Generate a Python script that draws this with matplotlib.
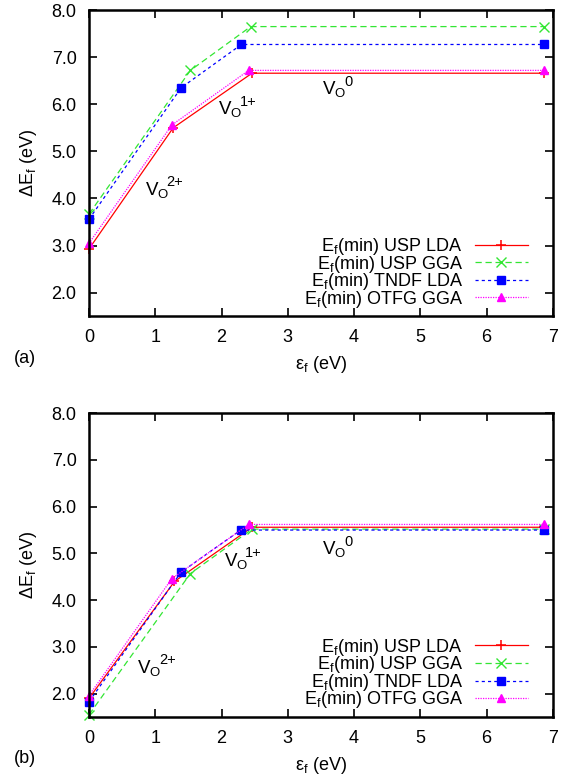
import matplotlib
matplotlib.use("Agg")
from matplotlib import pyplot as plt

plt.rcParams['font.family'] = ['Liberation Sans', 'DejaVu Sans']
plt.rcParams['mathtext.default'] = 'regular'
plt.rcParams['font.size'] = 13

# formation energy vs Fermi level, panel (a)
x_usp_lda_a = [0.0, 1.27, 2.46, 6.87]
y_usp_lda_a = [2.93, 5.50, 6.66, 6.66]
x_usp_gga_a = [0.0, 1.53, 2.44, 6.87]
y_usp_gga_a = [3.67, 6.72, 7.65, 7.65]
x_tndf_lda_a = [0.0, 1.39, 2.30, 6.87]
y_tndf_lda_a = [3.56, 6.35, 7.27, 7.27]
x_otfg_gga_a = [0.0, 1.25, 2.41, 6.87]
y_otfg_gga_a = [3.05, 5.56, 6.72, 6.72]

# panel (b)
x_usp_lda_b = [0.0, 1.29, 2.46, 6.87]
y_usp_lda_b = [1.90, 4.40, 5.56, 5.56]
x_usp_gga_b = [0.0, 1.53, 2.46, 6.87]
y_usp_gga_b = [1.55, 4.57, 5.52, 5.52]
x_tndf_lda_b = [0.0, 1.39, 2.29, 6.87]
y_tndf_lda_b = [1.83, 4.60, 5.50, 5.50]
x_otfg_gga_b = [0.0, 1.25, 2.41, 6.87]
y_otfg_gga_b = [1.96, 4.46, 5.62, 5.62]

labels = ['E$_f$(min) USP LDA', 'E$_f$(min) USP GGA',
          'E$_f$(min) TNDF LDA', 'E$_f$(min) OTFG GGA']
x_ticks = [0, 1, 2, 3, 4, 5, 6, 7]
y_ticks = [2.0, 3.0, 4.0, 5.0, 6.0, 7.0, 8.0]

charges = ['2+', '1+', '0']
charge_pos_a = [(0.84, 4.08), (1.95, 5.79), (3.52, 6.22)]
charge_pos_b = [(0.73, 2.45), (2.03, 4.74), (3.52, 4.99)]


def draw(ax, series, charge_pos, tag):
    styles = [
        dict(color='#ff0000', ls='-', marker='+', ms=7.5, mew=1.1),
        dict(color='#33e633', ls=(0, (5, 3)), marker='x', ms=6.5, mew=1.0),
        dict(color='#0000ff', ls=(0, (2.5, 2.5)), marker='s', ms=5.5),
        dict(color='#ff00ff', ls=(0, (1, 1)), marker='^', ms=6),
    ]
    for (xx, yy), lab, st in zip(series, labels, styles):
        ax.plot(xx, yy, lw=0.9, label=lab, clip_on=False, **st)

    # V_O with the charge written after the subscript, gnuplot style
    for q, (cx, cy) in zip(charges, charge_pos):
        ax.text(cx, cy, 'V$_O$', fontsize=13.5, ha='left', va='baseline')
        ax.annotate(q, xy=(cx, cy), xytext=(15.6, 6.0),
                    textcoords='offset points', fontsize=10.5,
                    ha='left', va='baseline')

    ax.set_xlim(0, 7)
    ax.set_ylim(1.5, 8.0)
    ax.set_xticks(x_ticks)
    ax.set_yticks(y_ticks)
    ax.set_yticklabels(['{:.1f}'.format(v) for v in y_ticks])
    ax.tick_params(direction='in', length=6, width=1.2, top=True, right=True)
    ax.tick_params(axis='x', pad=9)
    ax.tick_params(axis='y', pad=9)
    for sp in ax.spines.values():
        sp.set_linewidth(1.8)

    ax.set_xlabel('ε$_f$ (eV)', labelpad=6)
    ax.set_ylabel('ΔE$_f$ (eV)', labelpad=9)

    ax.legend(loc='lower right', bbox_to_anchor=(0.973, -0.02),
              frameon=False, markerfirst=False, handlelength=2.9,
              handletextpad=0.7, labelspacing=-0.19, borderpad=0.2)

    ax.text(-0.162, -0.137, tag, transform=ax.transAxes, fontsize=13,
            ha='left', va='center')


def main():
    fig = plt.figure(figsize=(5.67, 7.77), dpi=100)
    ax_a = fig.add_axes([0.157, 0.593, 0.818, 0.394])
    ax_b = fig.add_axes([0.157, 0.0772, 0.818, 0.391])

    draw(ax_a, [(x_usp_lda_a, y_usp_lda_a), (x_usp_gga_a, y_usp_gga_a),
                (x_tndf_lda_a, y_tndf_lda_a), (x_otfg_gga_a, y_otfg_gga_a)],
         charge_pos_a, '(a)')
    draw(ax_b, [(x_usp_lda_b, y_usp_lda_b), (x_usp_gga_b, y_usp_gga_b),
                (x_tndf_lda_b, y_tndf_lda_b), (x_otfg_gga_b, y_otfg_gga_b)],
         charge_pos_b, '(b)')

    fig.savefig('out.png', dpi=100)


if __name__ == "__main__":
    main()
